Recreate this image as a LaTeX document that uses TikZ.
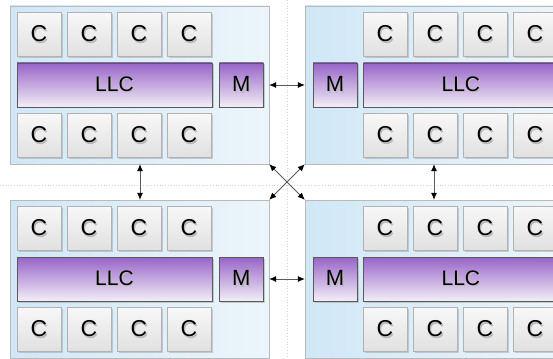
\documentclass[tikz,border=0pt]{standalone}
\usepackage{fontspec}
\setmainfont{Liberation Sans}
\usetikzlibrary{arrows.meta, positioning, shadows, backgrounds}
\definecolor{panelA}{RGB}{208,231,246}
\definecolor{panelB}{RGB}{236,245,251}
\definecolor{llcTop}{RGB}{152,100,200}
\definecolor{llcBot}{RGB}{242,238,246}
\newcommand{\Shd}[1]{\rlap{\hspace{1.2pt}\raisebox{-1.2pt}{\textcolor{gray!55}{#1}}}#1}
\tikzset{
    panel/.style={draw=gray!55, left color=panelA, right color=panelB,
      minimum width=259pt, minimum height=158pt, inner sep=0pt},
    core/.style={draw=gray!60, top color=gray!6, bottom color=gray!24,
      minimum size=44pt, inner sep=0pt, font=\fontsize{23}{23}\selectfont,
      drop shadow={shadow xshift=1.5pt, shadow yshift=-1.5pt, opacity=0.35}},
    llc/.style={draw=gray!70!black, top color=llcTop, bottom color=llcBot,
      minimum width=195pt, minimum height=44pt, inner sep=0pt,
      font=\fontsize{21}{21}\selectfont,
      drop shadow={shadow xshift=1.5pt, shadow yshift=-1.5pt, opacity=0.35}},
    mem/.style={llc, minimum width=44pt, font=\fontsize{22}{22}\selectfont},
    link/.style={draw=gray!70!black, line width=0.8pt,
      {Latex[length=7pt,width=6pt,black]}-{Latex[length=7pt,width=6pt,black]}},
    grid/.style={gray!35, dotted, line width=0.8pt},
}

\begin{document}
\begin{tikzpicture}[x=1pt, y=-1pt, node distance=6pt]
    \useasboundingbox (0,0) rectangle (553,358);
    \clip (0,0) rectangle (553,358);

    % faint background grid
    \draw[grid] (0,185) -- (553,185);
    \draw[grid] (287,0) -- (287,358);

    \foreach \p/\dy in {t/0, b/194} {
      % left chip
      \node[panel] (\p l) at (139.5,85+\dy) {};
      \node[llc] (\p l-llc) at (114.5,85+\dy) {\Shd{LLC}};
      \node[mem, right=7pt of \p l-llc] (\p l-m) {\Shd{M}};
      \foreach \i in {1,...,4} {
        \node[core] (\p l-a\i) at ({39+50*(\i-1)},34.5+\dy) {\Shd{C}};
        \node[core] (\p l-b\i) at ({39+50*(\i-1)},135.5+\dy) {\Shd{C}};
      }
      % right chip
      \node[panel] (\p r) at (434.5,85+\dy) {};
      \node[mem] (\p r-m) at (335,85+\dy) {\Shd{M}};
      \node[llc, right=6pt of \p r-m] (\p r-llc) {\Shd{LLC}};
      \foreach \i in {1,...,4} {
        \node[core] (\p r-a\i) at ({385+50*(\i-1)},34.5+\dy) {\Shd{C}};
        \node[core] (\p r-b\i) at ({385+50*(\i-1)},135.5+\dy) {\Shd{C}};
      }
      % memory link
      \draw[link] (\p l.east |- \p l-m) -- (\p r.west |- \p r-m);
    }

    % vertical links
    \draw[link] (tl.south -| 140,0) -- (bl.north -| 140,0);
    \draw[link] (tr.south -| 434,0) -- (br.north -| 434,0);

    % cross links
    \draw[link] (tl.south east) -- (br.north west);
    \draw[link] (tr.south west) -- (bl.north east);
\end{tikzpicture}
\end{document}
